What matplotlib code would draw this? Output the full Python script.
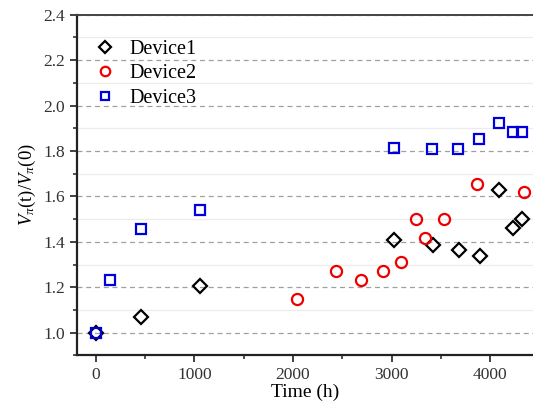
import matplotlib
matplotlib.use("Agg")
import matplotlib.pyplot as plt
from matplotlib.ticker import MultipleLocator, FormatStrFormatter

plt.rcParams['font.family'] = ['Liberation Serif', 'DejaVu Serif']
plt.rcParams['mathtext.fontset'] = 'custom'
plt.rcParams['mathtext.rm'] = 'Liberation Serif'
plt.rcParams['mathtext.it'] = 'Liberation Serif:italic'

# Data
d1_t = [0, 455, 1055, 3025, 3420, 3680, 3895, 4088, 4227, 4328]
d1_v = [1.00, 1.07, 1.207, 1.41, 1.387, 1.364, 1.338, 1.629, 1.46, 1.50]
d2_t = [2044, 2433, 2686, 2909, 3092, 3244, 3338, 3531, 3869, 4342]
d2_v = [1.15, 1.27, 1.232, 1.27, 1.31, 1.50, 1.418, 1.50, 1.655, 1.618]
d3_t = [0, 145, 462, 1057, 3027, 3412, 3676, 3889, 4088, 4227, 4328]
d3_v = [1.00, 1.231, 1.458, 1.54, 1.812, 1.81, 1.81, 1.853, 1.924, 1.883, 1.883]
labels = ["Device1", "Device2", "Device3"]

fig = plt.figure(figsize=(5.33, 4.07), dpi=100)
ax = fig.add_axes([0.1439, 0.1268, 0.8561, 0.8371])

mew = 1.6
ax.plot(d1_t, d1_v, linestyle='none', marker='D', ms=7.2, mfc='none',
        mec='black', mew=mew, label=labels[0], zorder=3)
ax.plot(d2_t, d2_v, linestyle='none', marker='o', ms=8.0, mfc='none',
        mec='#ee0000', mew=mew, label=labels[1], zorder=3)
ax.plot(d3_t, d3_v, linestyle='none', marker='s', ms=7.3, mfc='none',
        mec='#0000dd', mew=mew, label=labels[2], zorder=4)

ax.set_xlim(-195, 4435)
ax.set_ylim(0.9, 2.4)
ax.xaxis.set_major_locator(MultipleLocator(1000))
ax.xaxis.set_minor_locator(MultipleLocator(500))
ax.yaxis.set_major_locator(MultipleLocator(0.2))
ax.yaxis.set_minor_locator(MultipleLocator(0.1))
ax.yaxis.set_major_formatter(FormatStrFormatter('%.1f'))

ax.grid(True, which='major', axis='y', linestyle=(0, (4, 3)), color='#a0a0a0', lw=0.9, zorder=0)
ax.grid(True, which='minor', axis='y', linestyle='-', color='#ececec', lw=0.9, zorder=0)
ax.set_axisbelow(True)

ax.tick_params(which='major', direction='out', length=5, width=1.3, labelsize=12.5,
               color='#333333', labelcolor='#333333')
ax.tick_params(which='minor', direction='out', length=3, width=1.2, color='#333333')

for s in ['left', 'bottom']:
    ax.spines[s].set_linewidth(1.6)
    ax.spines[s].set_color('#222222')
ax.spines['top'].set_linewidth(1.4)
ax.spines['top'].set_color('#444444')
ax.spines['right'].set_visible(False)

ax.set_xlabel('Time (h)', fontsize=14, labelpad=0)
ax.set_ylabel(r'$V_\pi$(t)/$V_\pi$(0)', fontsize=13.5, labelpad=4)

ax.legend(loc='upper left', frameon=False, fontsize=14.5, handletextpad=0.7,
          labelspacing=0.28, borderaxespad=0.5, handlelength=1.0, markerscale=0.85,
          bbox_to_anchor=(0.0, 0.98))

fig.savefig('out.png', dpi=100)
